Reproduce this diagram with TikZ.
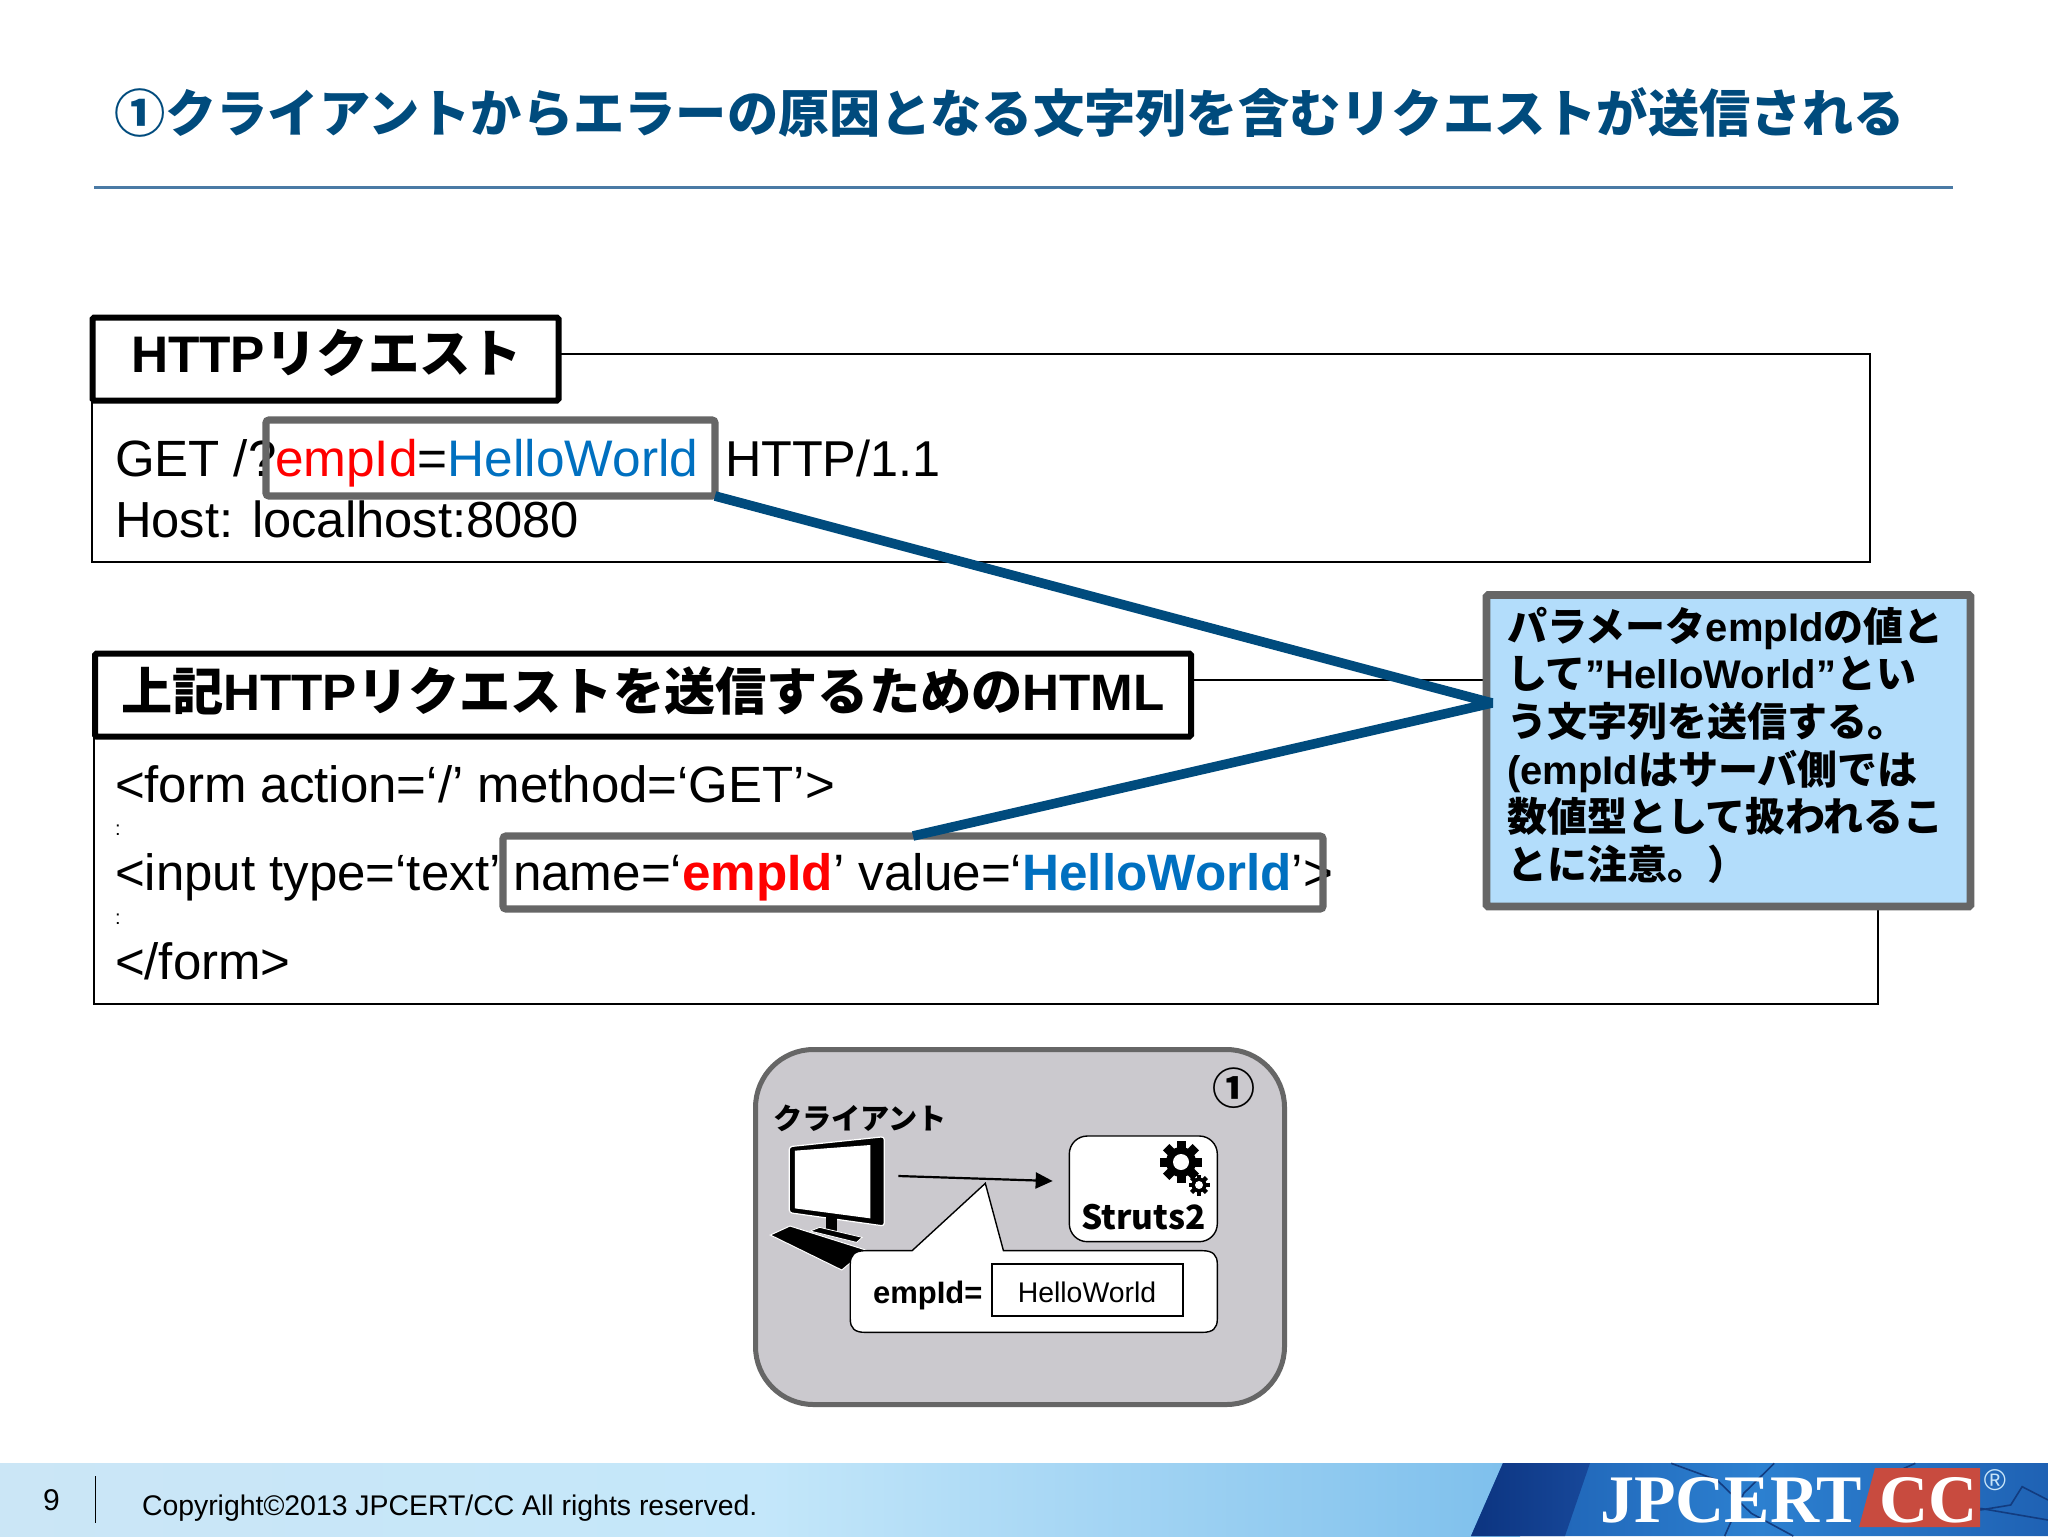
\documentclass[tikz,border=0pt]{standalone}
\usepackage{fontspec}
\usetikzlibrary{arrows.meta}
\setmainfont{Liberation Sans}
\newfontfamily\cjk{Noto Sans CJK JP}
\newfontfamily\tsrf{Liberation Serif}
\newcommand{\J}[1]{{\cjk #1}}
\newcommand{\fs}[1]{\fontsize{#1pt}{#1pt}\selectfont}
\definecolor{titleblue}{HTML}{004B7D}
\definecolor{rulecol}{HTML}{4A7AA5}
\definecolor{linkblue}{HTML}{004B7D}
\definecolor{greyline}{HTML}{666666}
\definecolor{calloutfill}{HTML}{B3DDFB}
\definecolor{paneltint}{HTML}{CBC9CE}
\definecolor{empred}{HTML}{FF0000}
\definecolor{valblue}{HTML}{0070C0}
\definecolor{logored}{HTML}{C84B3F}
\definecolor{footA}{HTML}{CBE6F6}
\definecolor{footB}{HTML}{C4E7FA}
\definecolor{footC}{HTML}{7DBFEC}
\definecolor{logoA}{HTML}{1C5CAF}
\definecolor{logoB}{HTML}{2C80D0}
\definecolor{logoC}{HTML}{1F62B4}
\definecolor{navyA}{HTML}{0C3480}
\definecolor{navyB}{HTML}{17489A}
\definecolor{crack}{HTML}{123C80}
\definecolor{regcol}{HTML}{C8E4F8}
\tikzset{
  txt/.style={anchor=base west,inner sep=0pt,outer sep=0pt},
  thinbox/.style={draw=black,line width=0.9pt,inner sep=0pt,outer sep=0pt},
  headbox/.style={draw=black,fill=white,line width=3pt,rounded corners=0.8pt,inner sep=0pt,outer sep=0pt},
  hilite/.style={draw=greyline,line width=3.6pt,rounded corners=1.5pt,inner sep=0pt,outer sep=0pt},
  body/.style={txt,font=\fs{25.5}},
  gearpic/.pic={
    \fill[black] (0,0) circle (15);
    \foreach \a in {0,45,90,135}{\fill[black,rotate=\a] (-4.5,-21) rectangle (4.5,21);}
    \fill[white] (0,0) circle (8);
  }
}
\begin{document}
\begin{tikzpicture}[x=0.5pt,y=-0.5pt]
\useasboundingbox (0,0) rectangle (2048,1536);
\fill[white] (0,0) rectangle (2048,1536);
% title
\node[txt,text=titleblue,font=\fs{25.63}\cjk\bfseries] (title) at (114,133) {①クライアントからエラーの原因となる文字列を含むリクエストが送信される};
\draw[rulecol,line width=1.5pt] (94,187) -- (1953,187);
% request panel
\node[thinbox,minimum width=889pt,minimum height=104pt] (box1) at (981,458) {};
\node[headbox,minimum width=233pt,minimum height=41.5pt] (head1) at (325.5,359) {};
\node[txt,font=\fs{25.7}\bfseries] (head1t) at (131,372) {HTTP\J{リクエスト}};
\node[body] (r1) at (115,476) {GET /?};
\node[txt,font=\fs{25.7}] (r2) at (275,476) {\textcolor{empred}{empId}=\textcolor{valblue}{HelloWorld}};
\node[txt,font=\fs{25.2}] (r3) at (725,476) {HTTP/1.1};
\node[txt,font=\fs{25.35}] (r4) at (115,537) {Host: localhost:8080};
\node[hilite,minimum width=224.5pt,minimum height=38pt] (grey1) at (490.5,458) {};
% html panel
\node[thinbox,minimum width=892pt,minimum height=162pt] (box2) at (986,842) {};
\node[headbox,minimum width=548pt,minimum height=41.5pt] (head2) at (643,695) {};
\node[txt,font=\fs{25.6}\bfseries] (head2t) at (121,710) {\J{上記}HTTP\J{リクエストを送信するための}HTML};
\node[body] (h1) at (115,802) {<form action=‘/’ method=‘GET’>};
\node[txt,font=\fs{10}] (c1) at (115,835) {:};
\node[body] (h2) at (115,890) {<input type=‘text’};
\node[txt,font=\fs{25.6}] (h3) at (513,890) {name=‘\textbf{\textcolor{empred}{empId}}’ value=‘\textbf{\textcolor{valblue}{HelloWorld}}’>};
\node[txt,font=\fs{10}] (c2) at (115,924) {:};
\node[body] (h4) at (115,979) {</form>};
\node[hilite,minimum width=410pt,minimum height=36.5pt] (grey2) at (913,872.5) {};
% callout
\node[draw=greyline,fill=calloutfill,line width=3.8pt,rounded corners=0.8pt,inner sep=0pt,minimum width=242pt,minimum height=155.75pt] (callout) at (1728.5,750.75) {};
\begin{scope}[font=\fs{20}\bfseries]
\node[txt] (k1) at (1507,641) {\J{パラメータ}empId\J{の値と}};
\node[txt] (k2) at (1507,688) {\J{して}”HelloWorld”\J{とい}};
\node[txt] (k3) at (1507,736) {\J{う文字列を送信する。}};
\node[txt] (k4) at (1507,784) {(empId\J{はサーバ側では}};
\node[txt] (k5) at (1507,831) {\J{数値型として扱われるこ}};
\node[txt] (k6) at (1507,879) {\J{とに注意。）}};
\end{scope}
% connector
\coordinate (tip) at (1492,703);
\draw[linkblue,line width=4.8pt,line join=bevel] (grey1.south east) -- (tip) -- (grey2.north);
% mini diagram
\node[draw=greyline,fill=paneltint,line width=2.5pt,rounded corners=29pt,inner sep=0pt,minimum width=264.5pt,minimum height=177.5pt] (panel) at (1020,1227) {};
\node[inner sep=0pt,font=\fs{21.5}\cjk\bfseries] (one) at (1234,1088) {①};
\node[txt,font=\fs{14.6}\cjk\bfseries] (client) at (773,1129) {クライアント};
\begin{scope}[shift={(740,1030)},x=0.185pt,y=-0.16667pt]
  % monitor
  \filldraw[black,draw=white,line width=0.6pt,rounded corners=1.5pt] (133,350) -- (390,320) -- (390,588) -- (133,548) -- cycle;
  \fill[white] (148,362) -- (352,345) -- (352,565) -- (148,535) -- cycle;
  \fill[black] (232,555) rectangle (262,605);
  \filldraw[black,draw=white,line width=0.4pt] (190,603) -- (215,592) -- (330,622) -- (315,637) -- cycle;
  \filldraw[black,draw=white,line width=0.5pt] (82,615) -- (135,588) -- (340,660) -- (275,720) -- cycle;
  \coordinate (a0) at (428,438);
  \coordinate (a1) at (845,453);
  \draw[black,line width=1.1pt,-{Triangle[length=8.5pt,width=8pt]}] (a0) -- (a1);
  % Struts2 box
  \draw[black,fill=white,line width=0.7pt,rounded corners=9pt] (890,318) rectangle (1290,635);
  % speech bubble
  \draw[black,fill=white,line width=0.7pt] (712,662) -- (1250,662) .. controls (1278,662) and (1290,675) .. (1290,702) -- (1290,867) .. controls (1290,895) and (1278,907) .. (1250,907) -- (338,907) .. controls (310,907) and (298,895) .. (298,867) -- (298,702) .. controls (298,675) and (310,662) .. (338,662) -- (465,662) -- (663,460) -- cycle;
\end{scope}
\pic at (1181,1162) {gearpic};
\pic[scale=0.5] at (1199,1185) {gearpic};
\node[inner sep=0pt,anchor=base,font=\fs{16.7}\cjk\bfseries] (struts) at (1143.5,1229) {Struts2};
\node[draw=black,line width=0.9pt,minimum width=95.5pt,minimum height=26pt,inner sep=0pt] (valbox) at (1087.5,1290) {};
\node[txt,font=\fs{15.5}\bfseries] (emp) at (873,1303) {empId=};
\node[inner sep=0pt,anchor=base,font=\fs{14.2}] (hw) at (1087,1302) {HelloWorld};
% footer
\shade[left color=footA,right color=footC,middle color=footB] (0,1463) rectangle (1520,1536);
\shade[left color=logoA,right color=logoC,middle color=logoB] (1503,1463) -- (2048,1463) -- (2048,1536) -- (1471,1536) -- cycle;
\shade[left color=navyA,right color=navyB] (1503,1463) -- (1590,1463) -- (1565,1536) -- (1471,1536) -- cycle;
\begin{scope}[shift={(1450,1450)},x=0.1907pt,y=-0.16667pt,draw=crack,line width=0.8pt]
  \draw (580,40) -- (700,90) -- (790,190) -- (900,258);
  \draw (850,40) -- (770,130) -- (720,258);
  \draw (1220,40) -- (1180,60);
  \draw (1390,180) -- (1470,165) -- (1500,110) -- (1568,150);
  \draw (1390,175) -- (1568,210);
\end{scope}
\fill[logored] (1875,1468) -- (1980,1468) -- (1980,1527) -- (1859,1527) -- cycle;
\node[txt,text=white,font=\fs{34}\tsrf\bfseries] (jp) at (1600,1522) {JPCERT};
\node[txt,text=white,font=\fs{34}\tsrf\bfseries] (cc) at (1879,1522) {CC};
\node[inner sep=0pt,text=regcol,font=\fs{15}] (reg) at (1995,1480) {®};
\node[txt,font=\fs{15}] (pg) at (43,1510) {9};
\draw[black,line width=0.5pt] (95,1476) -- (95,1523);
\node[txt,font=\fs{14.2}] (copy) at (142,1515) {Copyright©2013 JPCERT/CC All rights reserved.};
\end{tikzpicture}
\end{document}
